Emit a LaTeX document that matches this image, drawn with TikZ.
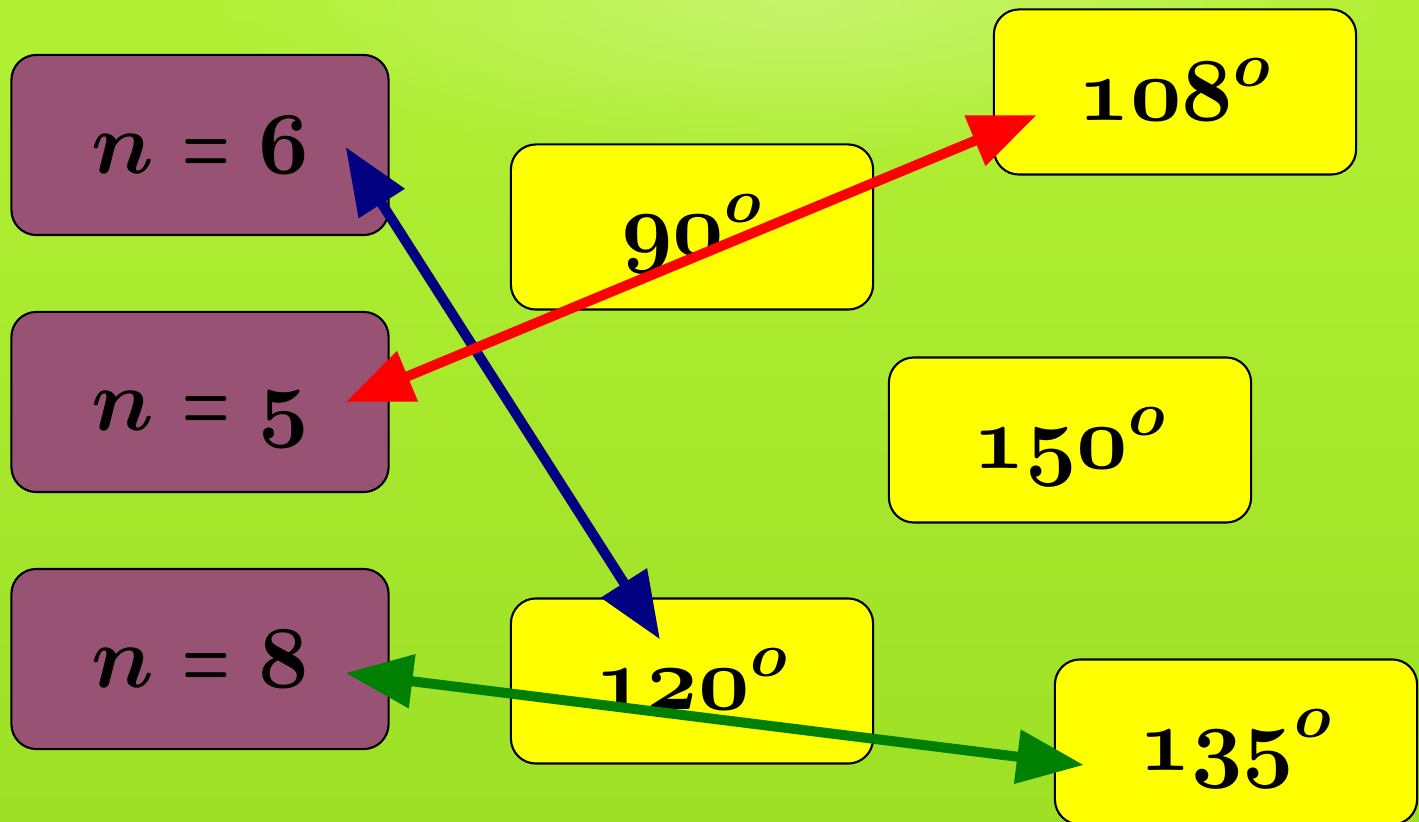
\RequirePackage{fix-cm}
\documentclass[tikz,border=0pt]{standalone}
\usetikzlibrary{arrows.meta,fadings}
\definecolor{plum}{RGB}{152,82,115}
\definecolor{lemon}{RGB}{255,255,0}
\definecolor{limetop}{RGB}{178,240,52}
\definecolor{limebot}{RGB}{157,224,38}
\definecolor{navyblue}{RGB}{0,0,128}
\definecolor{darkgreen}{RGB}{0,128,0}
\newcommand\osf[1]{\mathnormal{#1}}
\newcommand\eqsign{\mathrel{\scalebox{0.62}[1]{$=$}}}
\tikzfading[name=glowfade, inner color=transparent!72, outer color=transparent!100]
\tikzset{
	card/.style={draw=black, line width=0.6pt, rounded corners=0.25cm, text height=0.6cm, text depth=0.04cm,
		font=\fontsize{25.5}{30}\selectfont\boldmath},
	sidebox/.style={card, fill=plum, minimum width=3.77cm, minimum height=1.8cm, font=\fontsize{25}{30}\selectfont\boldmath},
	anglebox/.style={card, fill=lemon, minimum width=3.62cm, minimum height=1.65cm},
	link/.style={line width=0.1cm, {Triangle[length=0.67cm,width=0.52cm]}-{Triangle[length=0.67cm,width=0.52cm]}}
}
\begin{document}
\begin{tikzpicture}[x=0.01cm, y=-0.01cm]
	\useasboundingbox (0,0) rectangle (1419,822);
	% background
	\shade[top color=limetop, bottom color=limebot] (0,0) rectangle (1419,822);
	\fill[white, path fading=glowfade] (800,0) ellipse (600 and 170);
	% number of sides
	\node[sidebox] (n6) at (200,145) {$n \eqsign \osf{6}$};
	\node[sidebox] (n5) at (200,402) {$n \eqsign \osf{5}$};
	\node[sidebox] (n8) at (200,659) {$n \eqsign \osf{8}$};
	% interior angles
	\node[anglebox] (a90) at (692,227) {$\osf{90}^o$};
	\node[anglebox] (a108) at (1175,92) {$\osf{108}^o$};
	\node[anglebox] (a150) at (1070,440) {$\osf{150}^o$};
	\node[anglebox] (a120) at (692,681) {$\osf{120}^o$};
	\node[anglebox] (a135) at (1236,742) {$\osf{135}^o$};
	% matches
	\draw[link, navyblue] ([shift={(-44,2)}]n6.east) -- ([shift={(-32,42)}]a120.north);
	\draw[link, red] ([shift={(-44,0)}]n5.east) -- ([shift={(44,23)}]a108.west);
	\draw[link, darkgreen] ([shift={(-44,14)}]n8.east) -- ([shift={(30,23)}]a135.west);
\end{tikzpicture}
\end{document}
